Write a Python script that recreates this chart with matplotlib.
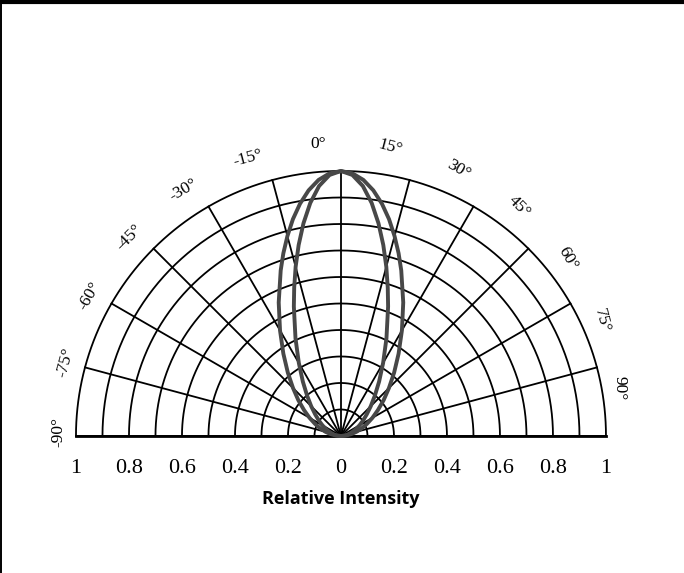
import numpy as np
import matplotlib.pyplot as plt
from matplotlib.lines import Line2D

# angles (deg, 0 = straight up, clockwise positive) and relative intensity
angles = [-90, -85, -80, -75, -70, -65, -60, -55, -50, -45, -40, -35, -30, -25, -20,
          -17.5, -15, -12.5, -10, -7.5, -5, -2.5, 0, 2.5, 5, 7.5, 10, 12.5, 15, 17.5,
          20, 25, 30, 35, 40, 45, 50, 55, 60, 65, 70, 75, 80, 85, 90]
outer_r = [0.0, 0.019, 0.039, 0.060, 0.083, 0.108, 0.137, 0.170, 0.210, 0.256, 0.312, 0.379, 0.460, 0.556, 0.665,
           0.723, 0.781, 0.838, 0.890, 0.935, 0.970, 0.992, 1.000, 0.992, 0.970, 0.935, 0.890, 0.838, 0.781, 0.723,
           0.665, 0.556, 0.460, 0.379, 0.312, 0.256, 0.210, 0.170, 0.137, 0.108, 0.083, 0.060, 0.039, 0.019, 0.0]
inner_r = [0.0, 0.011, 0.023, 0.035, 0.048, 0.063, 0.081, 0.102, 0.127, 0.159, 0.199, 0.251, 0.318, 0.406, 0.520,
           0.587, 0.661, 0.738, 0.815, 0.887, 0.947, 0.986, 1.000, 0.986, 0.947, 0.887, 0.815, 0.738, 0.661, 0.587,
           0.520, 0.406, 0.318, 0.251, 0.199, 0.159, 0.127, 0.102, 0.081, 0.063, 0.048, 0.035, 0.023, 0.011, 0.0]

ring_radii = [0.1, 0.2, 0.3, 0.4, 0.5, 0.6, 0.7, 0.8, 0.9, 1.0]
spoke_angles = [-90, -75, -60, -45, -30, -15, 0, 15, 30, 45, 60, 75, 90]
angle_labels = ['-90°', '-75°', '-60°', '-45°', '-30°', '-15°', '0°', '15°', '30°', '45°', '60°', '75°', '90°']
tick_pos = [-1, -0.8, -0.6, -0.4, -0.2, 0, 0.2, 0.4, 0.6, 0.8, 1]
tick_labels = ['1', '0.8', '0.6', '0.4', '0.2', '0', '0.2', '0.4', '0.6', '0.8', '1']

serif = 'Liberation Serif'

fig = plt.figure(figsize=(6.84, 5.73), dpi=100)
ax = fig.add_axes([0.0917, 0.2160, 0.8136, 0.5087])
ax.set_xlim(-1.05, 1.05)
ax.set_ylim(-0.05, 1.05)

# grid: rings and spokes
t = np.radians(np.linspace(-90, 90, 361))
for r in ring_radii:
    ax.plot(r * np.sin(t), r * np.cos(t), color='black', lw=1.3, zorder=1)
for a in spoke_angles:
    th = np.radians(a)
    ax.plot([0, np.sin(th)], [0, np.cos(th)], color='black', lw=1.3, zorder=1)
ax.plot([-1, 1], [0, 0], color='black', lw=2.0, zorder=1)

# the two patterns
for rr in (outer_r, inner_r):
    th = np.radians(angles)
    rr = np.array(rr)
    ax.plot(rr * np.sin(th), rr * np.cos(th), color='#484848', lw=2.8,
            solid_capstyle='round', zorder=3)

# angle labels, rotated along the circle
for a, lab in zip(spoke_angles, angle_labels):
    off = -4.4 - 0.059 * a
    rad = 1.105 - 0.04 * (a / 90) ** 2
    th = np.radians(a + off)
    ax.text(rad * np.sin(th), rad * np.cos(th), lab, rotation=-a,
            rotation_mode='anchor', ha='center', va='center',
            family=serif, fontsize=12.5, clip_on=False)

ax.set_xticks(tick_pos)
ax.set_xticklabels(tick_labels, family=serif, fontsize=16)
ax.tick_params(axis='x', length=0, pad=7)
ax.set_yticks([])
for s in ax.spines.values():
    s.set_visible(False)
ax.set_xlabel('Relative Intensity', family='Open Sans', fontweight='bold',
              fontsize=13, labelpad=9)

# frame bits at the top and left edge
fig.add_artist(Line2D([0.003, 1], [0.9966, 0.9966], transform=fig.transFigure,
                      color='black', lw=3.0))
fig.add_artist(Line2D([0.0015, 0.0015], [0, 1], transform=fig.transFigure,
                      color='black', lw=1.4))

fig.savefig('out.png', dpi=100)
